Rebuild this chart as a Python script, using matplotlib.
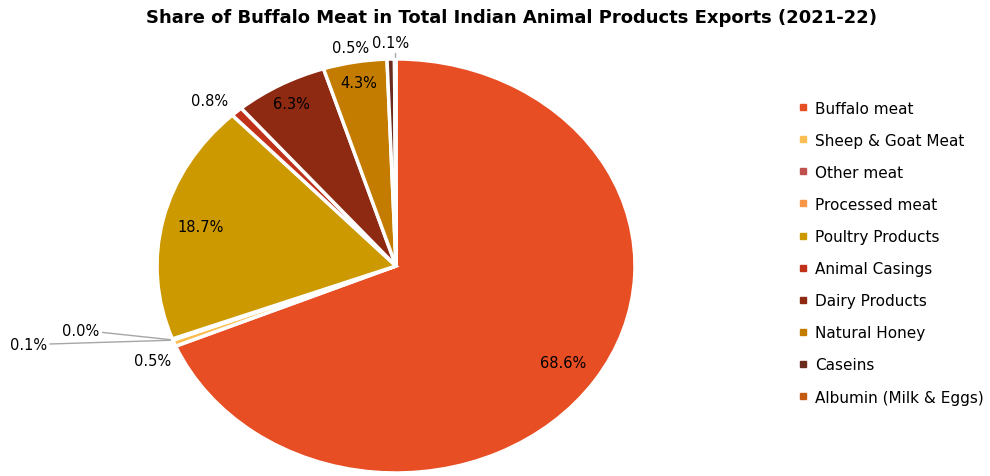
import numpy as np
import matplotlib.pyplot as plt
from matplotlib.lines import Line2D

categories = ["Buffalo meat", "Sheep & Goat Meat", "Other meat", "Processed meat",
              "Poultry Products", "Animal Casings", "Dairy Products", "Natural Honey",
              "Caseins", "Albumin (Milk & Eggs)"]
shares = [68.6, 0.5, 0.1, 0.0, 18.7, 0.8, 6.3, 4.3, 0.5, 0.1]
colors = ["#E84E24", "#FBBE52", "#C0504D", "#F79646", "#CC9900",
          "#C0311A", "#8E2A12", "#C47C00", "#6B2C1F", "#C55A11"]

fig = plt.figure(figsize=(9.9, 4.77), dpi=100)
ax = fig.add_axes([0.1586, 0.0063, 0.4828, 0.868])

wedges, _ = ax.pie(shares, colors=colors, startangle=90, counterclock=False,
                   wedgeprops=dict(edgecolor="white", linewidth=2.5))
ax.set_aspect("auto")
ax.set_xlim(-1, 1)
ax.set_ylim(-1, 1)

# labels inside the bigger slices: radius along the slice's mid angle
place = {0: 0.84, 4: 0.84, 6: 0.9, 7: 0.9}
for i, r in place.items():
    w = wedges[i]
    mid = np.deg2rad((w.theta1 + w.theta2) / 2)
    ax.text(r * np.cos(mid), r * np.sin(mid), f"{shares[i]:.1f}%",
            ha="center", va="center", fontsize=10.5)


def edge(i):
    mid = np.deg2rad((wedges[i].theta1 + wedges[i].theta2) / 2)
    return np.cos(mid), np.sin(mid)


ln = dict(arrowstyle="-", color="#A6A6A6", lw=1, shrinkA=0, shrinkB=0)

x, y = edge(1)
ax.text(x * 1.1, y * 1.22, f"{shares[1]:.1f}%", ha="center", va="center", fontsize=10.5)
x, y = edge(2)
ax.annotate(f"{shares[2]:.1f}%", xy=(x * 1.01, y * 1.01), xytext=(-1.46, -0.38),
            ha="right", va="center", fontsize=10.5, arrowprops=ln, annotation_clip=False)
x, y = edge(3)
ax.annotate(f"{shares[3]:.1f}%", xy=(x * 1.01, y * 1.01), xytext=(-1.24, -0.31),
            ha="right", va="center", fontsize=10.5, arrowprops=ln, annotation_clip=False)
x, y = edge(5)
ax.text(x * 1.17, y * 1.07, f"{shares[5]:.1f}%", ha="center", va="center", fontsize=10.5)
x, y = edge(8)
ax.text(-0.19, 1.055, f"{shares[8]:.1f}%", ha="center", va="center", fontsize=10.5)
x, y = edge(9)
ax.annotate(f"{shares[9]:.1f}%", xy=(x * 0.99, y * 1.01), xytext=(-0.1, 1.08),
            ha="left", va="center", fontsize=10.5, annotation_clip=False,
            arrowprops=dict(ln, connectionstyle="angle,angleA=0,angleB=90,rad=3"))

fig.text(0.517, 0.962, "Share of Buffalo Meat in Total Indian Animal Products Exports (2021-22)",
         ha="center", va="center", fontsize=13, fontweight="bold")

handles = [Line2D([], [], marker="s", linestyle="none", markersize=4, color=c) for c in colors]
fig.legend(handles, categories, loc="upper left", bbox_to_anchor=(0.8, 0.8), frameon=False,
           fontsize=11, handlelength=0.6, handletextpad=0.5, labelspacing=1.12, borderaxespad=0)

fig.savefig("out.png", dpi=100)
